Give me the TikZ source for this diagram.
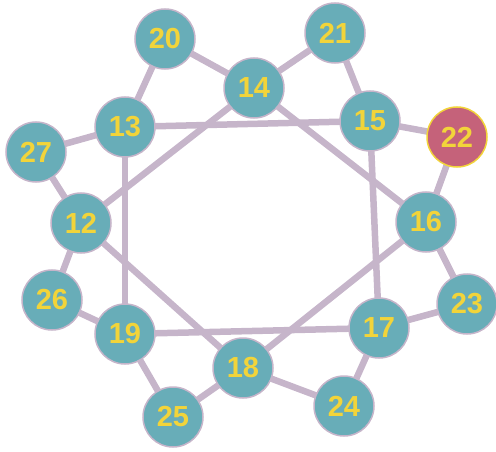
\documentclass[tikz,border=0pt]{standalone}
\usepackage{fontspec}
\setmainfont{Liberation Sans}
\usetikzlibrary{backgrounds}
\definecolor{tealf}{HTML}{68ADB8}
\definecolor{edgec}{HTML}{C6B5CA}
\definecolor{redf}{HTML}{C5627A}
\definecolor{yel}{HTML}{F2D43A}
\begin{document}
\begin{tikzpicture}[x=1pt,y=-1pt,
  vtx/.style={circle,minimum size=60pt,inner sep=0pt,fill=tealf,draw=edgec,line width=1.5pt,
    text=yel,font=\fontsize{29}{29}\selectfont\bfseries},
  hot/.style={vtx,fill=redf,draw=yel},
  edge/.style={draw=edgec,line width=6.5pt}]
\useasboundingbox (0,0) rectangle (496,452);
\node[vtx] (20) at (165,39) {20};
\node[vtx] (21) at (335,33) {21};
\node[vtx] (14) at (254,88) {14};
\node[vtx] (13) at (125,127) {13};
\node[vtx] (15) at (370,121) {15};
\node[hot] (22) at (457,137) {22};
\node[vtx] (27) at (36,152) {27};
\node[vtx] (12) at (81,223) {12};
\node[vtx] (16) at (426,222) {16};
\node[vtx] (26) at (52,300) {26};
\node[vtx] (23) at (467,304) {23};
\node[vtx] (19) at (125,334) {19};
\node[vtx] (17) at (379,328) {17};
\node[vtx] (18) at (243,368) {18};
\node[vtx] (24) at (344,406) {24};
\node[vtx] (25) at (173,417) {25};
\begin{scope}[on background layer]
\path[edge] (20.center) -- (13.center);
\path[edge] (20.center) -- (14.center);
\path[edge] (21.center) -- (14.center);
\path[edge] (21.center) -- (15.center);
\path[edge] (14.center) -- (12.center);
\path[edge] (14.center) -- (16.center);
\path[edge] (13.center) -- (15.center);
\path[edge] (13.center) -- (19.center);
\path[edge] (13.center) -- (27.center);
\path[edge] (27.center) -- (12.center);
\path[edge] (12.center) -- (26.center);
\path[edge] (12.center) -- (18.center);
\path[edge] (15.center) -- (22.center);
\path[edge] (15.center) -- (17.center);
\path[edge] (22.center) -- (16.center);
\path[edge] (16.center) -- (23.center);
\path[edge] (16.center) -- (18.center);
\path[edge] (23.center) -- (17.center);
\path[edge] (19.center) -- (17.center);
\path[edge] (19.center) -- (26.center);
\path[edge] (19.center) -- (25.center);
\path[edge] (25.center) -- (18.center);
\path[edge] (18.center) -- (24.center);
\path[edge] (24.center) -- (17.center);
\end{scope}
\end{tikzpicture}
\end{document}
